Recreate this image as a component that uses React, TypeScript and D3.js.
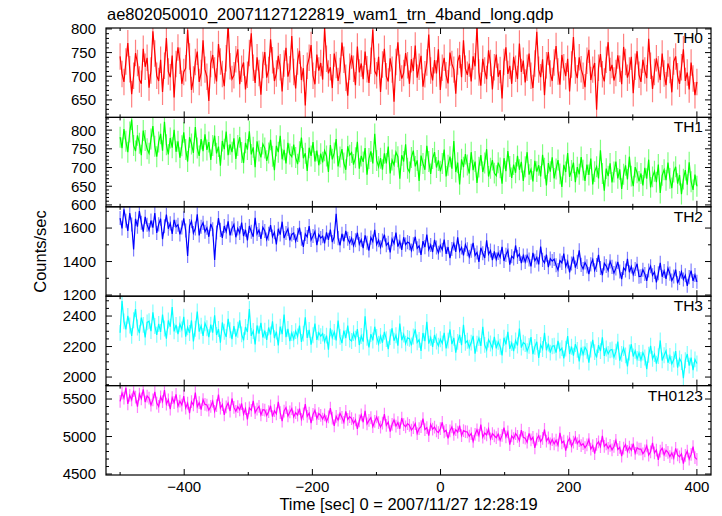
import * as d3 from 'd3'

const title = 'ae802050010_20071127122819_wam1_trn_4band_long.qdp'
const xLabel = 'Time [sec] 0 = 2007/11/27 12:28:19'
const yLabel = 'Counts/sec'

const panelNames = ['TH0', 'TH1', 'TH2', 'TH3', 'TH0123']
const colors = ['#ff0000', '#00ff00', '#0000ff', '#00ffff', '#ff00ff']

// bins run evenly from -500 s to 400 s
const tFirst = -500
const tLast = 400

const th0 = [
  742, 705, 688, 731, 770, 715, 662, 701, 749, 728, 693, 684, 758, 720, 739,
  676, 712, 795, 748, 701, 690, 735, 667, 722, 781, 710, 698, 744, 655, 726,
  761, 733, 684, 709, 717, 798, 742, 671, 693, 730, 752, 688, 707, 776, 714,
  699, 648, 726, 745, 712, 689, 768, 731, 705, 679, 738, 810, 721, 694, 702,
  736, 757, 683, 716, 729, 672, 703, 749, 791, 718, 686, 740, 707, 661, 724,
  751, 697, 713, 778, 734, 690, 706, 743, 719, 668, 727, 760, 699, 715, 785,
  709, 674, 731, 754, 692, 717, 638, 722, 739, 766, 701, 683, 746, 712, 728,
  693, 802, 737, 706, 719, 675, 748, 724, 690, 711, 771, 735, 697, 659, 720,
  744, 716, 681, 763, 708, 727, 694, 752, 715, 686, 733, 799, 711, 702, 741,
  667, 725, 758, 700, 689, 738, 714, 646, 730, 772, 718, 695, 707, 749, 723,
  684, 736, 711, 765, 697, 720, 743, 678, 704, 729, 788, 712, 691, 734, 706,
  757, 671, 718, 739, 702, 685, 750, 726, 714, 663, 731, 745, 698, 776, 716,
  703, 727, 689, 742, 721, 806, 708, 680, 737, 712, 694, 755, 728, 672, 719,
  746, 699, 713, 653, 730, 761, 705, 722, 684, 741, 716, 694, 769, 709, 733,
  687, 718, 748, 701, 675, 727, 794, 714, 698, 736, 660, 723, 751, 706, 690,
  729, 764, 710, 682, 745, 719, 700, 737, 668, 725, 783, 712, 696, 740, 715,
  701, 677, 733, 756, 692, 714, 728, 629, 718, 747, 704, 689, 735, 772, 711,
  724, 691, 707, 744, 716, 683, 762, 730, 697, 712, 741, 664, 720, 753, 703,
  688, 735, 712, 696, 779, 722, 673, 709, 738, 715, 692, 748, 706, 681, 727,
  713, 666, 731, 742, 700, 684, 719, 757, 690, 708, 672, 729, 695, 660, 688,
]

const th1 = [
  781, 752, 803, 770, 741, 795, 828, 759, 744, 786, 765, 733, 799, 772, 750,
  738, 776, 811, 757, 729, 768, 790, 745, 822, 761, 735, 779, 753, 801, 742,
  770, 726, 758, 794, 748, 716, 781, 763, 739, 808, 752, 731, 776, 744, 789,
  747, 768, 720, 759, 785, 738, 756, 705, 771, 749, 796, 733, 762, 741, 778,
  723, 759, 781, 740, 712, 766, 748, 797, 735, 754, 701, 770, 744, 727, 763,
  752, 718, 739, 774, 730, 693, 758, 741, 785, 722, 747, 711, 766, 736, 729,
  761, 727, 709, 742, 780, 725, 738, 691, 753, 731, 768, 716, 745, 706, 737,
  714, 745, 731, 688, 760, 722, 739, 776, 703, 728, 749, 712, 694, 757, 733,
  740, 708, 726, 769, 697, 731, 715, 752, 681, 724, 743, 711, 790, 719, 702,
  725, 694, 738, 711, 756, 684, 720, 707, 741, 729, 670, 733, 716, 762, 698,
  688, 727, 745, 703, 719, 664, 732, 711, 694, 758, 716, 683, 724, 741, 700,
  719, 690, 711, 748, 676, 706, 729, 697, 771, 688, 713, 655, 722, 701, 736,
  707, 684, 741, 693, 716, 659, 701, 733, 688, 712, 749, 676, 698, 720, 685,
  678, 713, 699, 657, 725, 690, 744, 703, 672, 708, 686, 731, 694, 715, 664,
  702, 741, 681, 695, 663, 718, 689, 706, 676, 734, 698, 652, 712, 689, 727,
  671, 696, 720, 683, 648, 707, 688, 739, 675, 692, 713, 661, 701, 682, 728,
  693, 664, 708, 680, 724, 655, 689, 702, 671, 746, 684, 638, 697, 677, 711,
  660, 688, 716, 671, 695, 643, 682, 706, 668, 729, 677, 650, 701, 686, 663,
  684, 652, 699, 670, 721, 647, 675, 690, 661, 708, 632, 679, 694, 666, 713,
  671, 645, 688, 702, 657, 680, 629, 669, 693, 654, 714, 662, 640, 681, 650,
]

const th2 = [
  1660, 1598, 1712, 1644, 1583, 1690, 1621, 1472, 1655, 1608, 1701, 1632, 1579, 1667, 1620,
  1588, 1645, 1603, 1690, 1571, 1622, 1656, 1534, 1611, 1680, 1596, 1628, 1565, 1649, 1607,
  1620, 1562, 1603, 1658, 1585, 1433, 1612, 1641, 1570, 1597, 1682, 1556, 1608, 1631, 1578,
  1602, 1548, 1625, 1593, 1410, 1574, 1660, 1589, 1541, 1612, 1578, 1640, 1556, 1598, 1621,
  1545, 1598, 1571, 1633, 1552, 1590, 1526, 1612, 1578, 1548, 1661, 1565, 1588, 1536, 1604,
  1583, 1532, 1566, 1618, 1549, 1575, 1502, 1596, 1561, 1638, 1540, 1571, 1595, 1527, 1562,
  1570, 1521, 1558, 1602, 1536, 1487, 1565, 1547, 1612, 1529, 1553, 1580, 1498, 1561, 1540,
  1552, 1508, 1574, 1530, 1591, 1516, 1548, 1685, 1540, 1497, 1566, 1521, 1583, 1536, 1511,
  1540, 1495, 1527, 1572, 1504, 1531, 1480, 1556, 1512, 1466, 1543, 1519, 1590, 1502, 1528,
  1485, 1526, 1561, 1497, 1512, 1455, 1534, 1508, 1573, 1489, 1520, 1470, 1545, 1501, 1516,
  1510, 1466, 1503, 1548, 1479, 1494, 1440, 1522, 1486, 1561, 1471, 1499, 1457, 1530, 1484,
  1452, 1496, 1470, 1531, 1446, 1487, 1420, 1475, 1508, 1458, 1545, 1462, 1484, 1437, 1501,
  1473, 1428, 1465, 1512, 1437, 1454, 1398, 1482, 1449, 1421, 1527, 1443, 1466, 1409, 1460,
  1412, 1451, 1426, 1488, 1403, 1440, 1467, 1381, 1432, 1419, 1496, 1428, 1445, 1390, 1436,
  1398, 1436, 1412, 1371, 1452, 1405, 1425, 1383, 1490, 1410, 1392, 1441, 1366, 1418, 1403,
  1415, 1378, 1350, 1406, 1392, 1447, 1371, 1400, 1335, 1388, 1429, 1364, 1398, 1467, 1380,
  1356, 1394, 1371, 1325, 1383, 1412, 1348, 1379, 1440, 1362, 1318, 1389, 1373, 1346, 1401,
  1368, 1331, 1359, 1398, 1340, 1295, 1362, 1347, 1416, 1336, 1371, 1322, 1355, 1387, 1310,
  1312, 1351, 1326, 1284, 1347, 1372, 1318, 1338, 1275, 1330, 1392, 1309, 1344, 1297, 1360,
  1328, 1287, 1311, 1352, 1270, 1302, 1339, 1293, 1318, 1255, 1307, 1346, 1284, 1320, 1279,
]

const th3 = [
  2290, 2498, 2365, 2312, 2401, 2338, 2270, 2372, 2445, 2325, 2288, 2390, 2342, 2260, 2358,
  2366, 2301, 2424, 2335, 2277, 2348, 2296, 2410, 2318, 2252, 2371, 2330, 2459, 2299, 2342,
  2281, 2346, 2312, 2395, 2265, 2326, 2289, 2371, 2233, 2317, 2430, 2298, 2336, 2270, 2352,
  2320, 2262, 2344, 2291, 2405, 2276, 2315, 2226, 2358, 2297, 2263, 2381, 2307, 2249, 2334,
  2265, 2310, 2372, 2280, 2241, 2329, 2295, 2446, 2270, 2302, 2214, 2338, 2285, 2356, 2259,
  2304, 2243, 2325, 2279, 2365, 2255, 2298, 2208, 2331, 2281, 2410, 2262, 2316, 2235, 2289,
  2248, 2301, 2266, 2338, 2230, 2285, 2392, 2257, 2309, 2212, 2274, 2350, 2244, 2291, 2268,
  2285, 2231, 2272, 2180, 2319, 2258, 2296, 2240, 2371, 2263, 2222, 2305, 2255, 2337, 2246,
  2236, 2288, 2251, 2315, 2210, 2269, 2232, 2398, 2258, 2194, 2281, 2240, 2330, 2263, 2218,
  2270, 2225, 2296, 2249, 2183, 2262, 2320, 2238, 2274, 2206, 2351, 2241, 2279, 2219, 2257,
  2251, 2208, 2266, 2312, 2227, 2244, 2171, 2289, 2235, 2362, 2219, 2258, 2198, 2276, 2233,
  2205, 2248, 2221, 2290, 2188, 2239, 2312, 2216, 2257, 2160, 2231, 2276, 2209, 2343, 2224,
  2238, 2192, 2226, 2270, 2153, 2218, 2255, 2204, 2330, 2211, 2179, 2246, 2220, 2188, 2264,
  2188, 2231, 2199, 2142, 2258, 2214, 2296, 2185, 2222, 2170, 2240, 2207, 2318, 2193, 2226,
  2216, 2170, 2204, 2262, 2150, 2198, 2231, 2126, 2211, 2184, 2290, 2176, 2219, 2160, 2202,
  2205, 2160, 2238, 2174, 2190, 2122, 2186, 2269, 2151, 2199, 2140, 2216, 2178, 2102, 2193,
  2148, 2195, 2172, 2095, 2181, 2244, 2163, 2128, 2209, 2170, 2260, 2139, 2187, 2152, 2176,
  2181, 2130, 2166, 2232, 2108, 2152, 2190, 2142, 2070, 2161, 2215, 2135, 2172, 2118, 2158,
  2112, 2160, 2128, 2052, 2146, 2205, 2120, 2150, 2088, 2137, 2240, 2109, 2143, 2172, 2094,
  2138, 2086, 2115, 2170, 2062, 2122, 2098, 1992, 2110, 2151, 2075, 2128, 2045, 2116, 2089,
]

const th0123 = [
  5470, 5580, 5512, 5650, 5436, 5548, 5490, 5612, 5525, 5398, 5566, 5503, 5630, 5458, 5540,
  5512, 5420, 5488, 5595, 5447, 5401, 5530, 5466, 5620, 5432, 5490, 5365, 5518, 5452, 5561,
  5405, 5472, 5420, 5538, 5380, 5446, 5312, 5464, 5421, 5587, 5398, 5452, 5360, 5491, 5428,
  5420, 5352, 5401, 5470, 5335, 5412, 5560, 5378, 5426, 5290, 5395, 5448, 5340, 5507, 5388,
  5336, 5398, 5355, 5440, 5298, 5372, 5230, 5381, 5350, 5476, 5319, 5367, 5402, 5288, 5358,
  5352, 5280, 5331, 5410, 5266, 5345, 5302, 5462, 5318, 5205, 5340, 5386, 5275, 5328, 5372,
  5262, 5318, 5285, 5372, 5230, 5301, 5432, 5270, 5312, 5178, 5295, 5350, 5240, 5306, 5281,
  5232, 5290, 5198, 5262, 5380, 5244, 5141, 5270, 5218, 5309, 5255, 5190, 5336, 5228, 5266,
  5240, 5176, 5222, 5101, 5210, 5288, 5190, 5343, 5168, 5215, 5252, 5133, 5201, 5262, 5187,
  5125, 5178, 5298, 5150, 5192, 5066, 5163, 5221, 5140, 5186, 5104, 5247, 5158, 5130, 5172,
  5148, 5085, 5120, 5172, 5040, 5106, 5131, 5240, 5092, 5118, 5011, 5162, 5098, 5126, 5075,
  5052, 5104, 5190, 5061, 5083, 4975, 5076, 5128, 5030, 5092, 5058, 5146, 5012, 5079, 5066,
  5061, 5004, 5040, 4935, 5028, 5090, 5015, 5160, 4992, 5047, 5022, 5101, 4970, 5038, 5010,
  4985, 5032, 4950, 5015, 5118, 4996, 5061, 4893, 5008, 4972, 5040, 5002, 4946, 5085, 4990,
  4978, 4925, 5042, 4955, 4990, 4850, 4966, 5012, 4932, 4975, 5094, 4940, 4981, 4902, 4960,
  4902, 4951, 4885, 5048, 4916, 4938, 4812, 4930, 4975, 4871, 4926, 4990, 4906, 4944, 4880,
  4905, 4851, 4890, 4960, 4832, 4878, 4772, 4895, 4930, 4866, 5010, 4870, 4902, 4841, 4883,
  4822, 4868, 4950, 4826, 4855, 4740, 4846, 4892, 4801, 4860, 4818, 4905, 4776, 4850, 4832,
  4831, 4770, 4808, 4875, 4752, 4796, 4915, 4781, 4820, 4690, 4806, 4846, 4758, 4815, 4789,
  4733, 4781, 4712, 4842, 4755, 4729, 4770, 4640, 4748, 4805, 4700, 4762, 4866, 4720, 4695,
]

const series = [th0, th1, th2, th3, th0123]
// typical 1-sigma error of a bin, per band
const errs = [28, 28, 42, 52, 85]

const yDomains = [
  [613, 802],
  [595, 834],
  [1193, 1727],
  [1944, 2530],
  [4487, 5679],
]
const yTicks = [
  [650, 700, 750, 800],
  [600, 650, 700, 750, 800],
  [1200, 1400, 1600],
  [2000, 2200, 2400],
  [4500, 5000, 5500],
]
const yMinorStep = [10, 10, 100, 50, 100]
const xTicks = [-400, -200, 0, 200, 400]
const xMinorStep = 100

const fmt = (v: number) => (v < 0 ? '\u2212' + Math.abs(v) : String(v))

export default function App() {
  const W = 722
  const H = 516
  const left = 106
  const right = 711
  const top = 28
  const bottom = 475
  const ph = (bottom - top) / panelNames.length
  const majorLen = 6
  const minorLen = 3

  const x = d3.scaleLinear().domain([-522, 422]).range([left, right])
  const xMinor = d3.range(-500, 401, xMinorStep).filter(v => !xTicks.includes(v))

  return (
    <svg
      width={W}
      height={H}
      style={{ position: 'absolute', left: 0, top: 0, background: '#fff' }}
      fontFamily="'Liberation Sans', Arial, Helvetica, sans-serif"
    >
      <defs>
        {panelNames.map((_, i) => (
          <clipPath id={`clip${i}`} key={i}>
            <rect x={left} y={top + i * ph} width={right - left} height={ph} />
          </clipPath>
        ))}
      </defs>

      <text x={left + 1} y={20} fontSize={16.5}>{title}</text>

      {series.map((vals, i) => {
        const y0 = top + i * ph
        const y = d3.scaleLinear().domain(yDomains[i]).range([y0 + ph, y0])
        const t = d3.scaleLinear().domain([0, vals.length - 1]).range([tFirst, tLast])
        const pts = vals.map((v, k) => ({ t: t(k), v }))
        const line = d3.line<{ t: number; v: number }>().x(d => x(d.t)).y(d => y(d.v))
        const bars = pts
          .map(d => `M${x(d.t).toFixed(2)},${y(d.v - errs[i]).toFixed(2)}V${y(d.v + errs[i]).toFixed(2)}`)
          .join('')
        const [lo, hi] = yDomains[i]
        const minor = d3
          .range(Math.ceil(lo / yMinorStep[i]) * yMinorStep[i], hi, yMinorStep[i])
          .filter(v => !yTicks[i].includes(v))
        return (
          <g key={i}>
            <g clipPath={`url(#clip${i})`}>
              <path d={bars} stroke={colors[i]} strokeOpacity={0.5} strokeWidth={1.2} fill="none" />
              <path d={line(pts) ?? ''} stroke={colors[i]} strokeWidth={1.2} fill="none" />
            </g>

            {/* y ticks, left and right, inward */}
            {yTicks[i].map(v => (
              <g key={`M${v}`}>
                <line x1={left} x2={left + majorLen} y1={y(v)} y2={y(v)} stroke="#000" />
                <line x1={right} x2={right - majorLen} y1={y(v)} y2={y(v)} stroke="#000" />
                <text x={left - 10} y={y(v)} dy="0.36em" textAnchor="end" fontSize={15}>
                  {fmt(v)}
                </text>
              </g>
            ))}
            {minor.map(v => (
              <g key={`m${v}`}>
                <line x1={left} x2={left + minorLen} y1={y(v)} y2={y(v)} stroke="#000" />
                <line x1={right} x2={right - minorLen} y1={y(v)} y2={y(v)} stroke="#000" />
              </g>
            ))}

            {/* x ticks on top and bottom of each panel */}
            {xTicks.map(v => (
              <g key={`x${v}`}>
                <line x1={x(v)} x2={x(v)} y1={y0} y2={y0 + majorLen} stroke="#000" />
                <line x1={x(v)} x2={x(v)} y1={y0 + ph} y2={y0 + ph - majorLen} stroke="#000" />
              </g>
            ))}
            {xMinor.map(v => (
              <g key={`xm${v}`}>
                <line x1={x(v)} x2={x(v)} y1={y0} y2={y0 + minorLen} stroke="#000" />
                <line x1={x(v)} x2={x(v)} y1={y0 + ph} y2={y0 + ph - minorLen} stroke="#000" />
              </g>
            ))}

            <rect x={left} y={y0} width={right - left} height={ph} fill="none" stroke="#000" strokeWidth={1.2} />
            <text x={right - 8} y={y0 + 15} textAnchor="end" fontSize={15.5}>
              {panelNames[i]}
            </text>
          </g>
        )
      })}

      {xTicks.map(v => (
        <text key={v} x={x(v)} y={492} textAnchor="middle" fontSize={15}>
          {fmt(v)}
        </text>
      ))}
      <text x={(left + right) / 2} y={510} textAnchor="middle" fontSize={16.5}>
        {xLabel}
      </text>
      <text
        transform={`translate(46,${(top + bottom) / 2}) rotate(-90)`}
        textAnchor="middle"
        fontSize={16.5}
      >
        {yLabel}
      </text>
    </svg>
  )
}
